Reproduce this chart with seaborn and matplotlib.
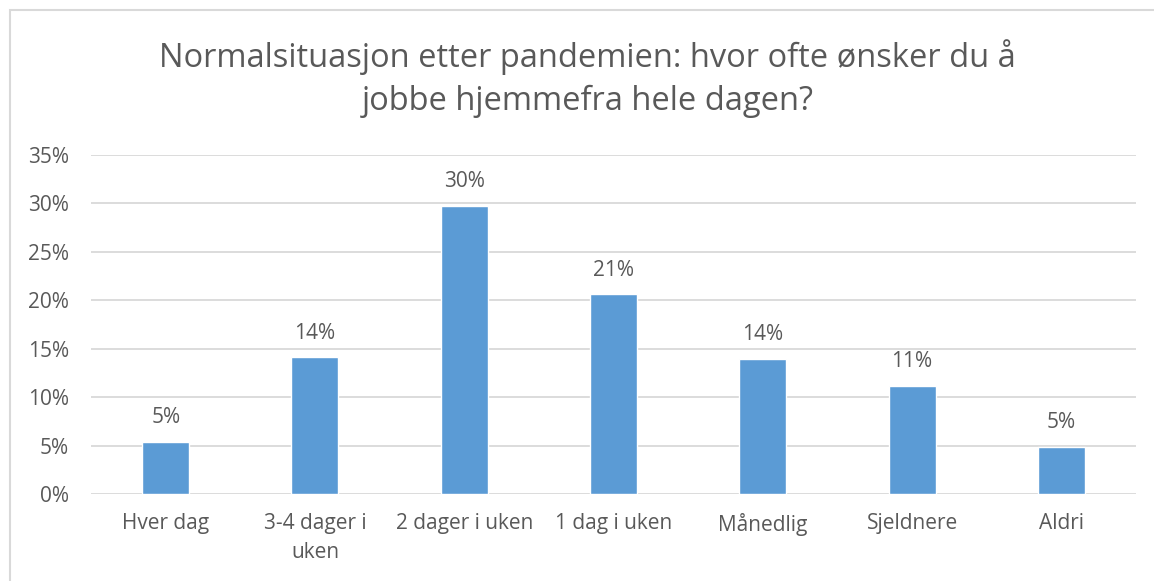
import numpy as np
import pandas as pd
import matplotlib.pyplot as plt
import matplotlib.patches as mpatches
import seaborn as sns

categories = ["Hver dag", "3-4 dager i\nuken", "2 dager i uken", "1 dag i uken",
              "Månedlig", "Sjeldnere", "Aldri"]
values = [0.054, 0.141, 0.297, 0.206, 0.139, 0.112, 0.049]
labels = ["5%", "14%", "30%", "21%", "14%", "11%", "5%"]

sns.set_style("white")
plt.rcParams['font.family'] = ['Open Sans', 'DejaVu Sans']

textc = "#595959"
gridc = "#D9D9D9"

df = pd.DataFrame({"cat": categories, "val": values})

fig = plt.figure(figsize=(11.54, 5.81), dpi=100)
ax = fig.add_axes([0.0789, 0.1497, 0.9055, 0.5835])

sns.barplot(data=df, x="cat", y="val", color="#5B9BD5", saturation=1,
            width=0.315, ax=ax, zorder=3)

ax.set_ylim(0, 0.35)
ax.set_yticks(np.arange(0, 0.351, 0.05))
ax.set_yticklabels([f"{int(round(t*100))}%" for t in np.arange(0, 0.351, 0.05)])
ax.set_xlim(-0.5, len(categories) - 0.5)
ax.grid(axis="y", color=gridc, linewidth=1.3, zorder=0)
for s in ax.spines.values():
    s.set_visible(False)
ax.set_xlabel("")
ax.set_ylabel("")
ax.tick_params(axis="both", length=0, labelsize=15, labelcolor=textc)
ax.tick_params(axis="y", pad=16)
ax.tick_params(axis="x", pad=14)
for t in ax.get_xticklabels():
    t.set_linespacing(1.45)

for i, (v, lab) in enumerate(zip(values, labels)):
    ax.annotate(lab, (i, v), xytext=(0, 10), textcoords="offset points",
                ha="center", va="bottom", fontsize=15, color=textc)

fig.text(0.509, 0.865, "Normalsituasjon etter pandemien: hvor ofte ønsker du å\njobbe hjemmefra hele dagen?",
         ha="center", va="center", fontsize=23.5, color=textc, linespacing=1.4)

# chart frame
fig.patches.append(mpatches.Rectangle((10/1154, -0.1), 1.2, 1.083, transform=fig.transFigure,
                                      fill=False, edgecolor=gridc, linewidth=1.5))

fig.savefig("out.png", dpi=100)
